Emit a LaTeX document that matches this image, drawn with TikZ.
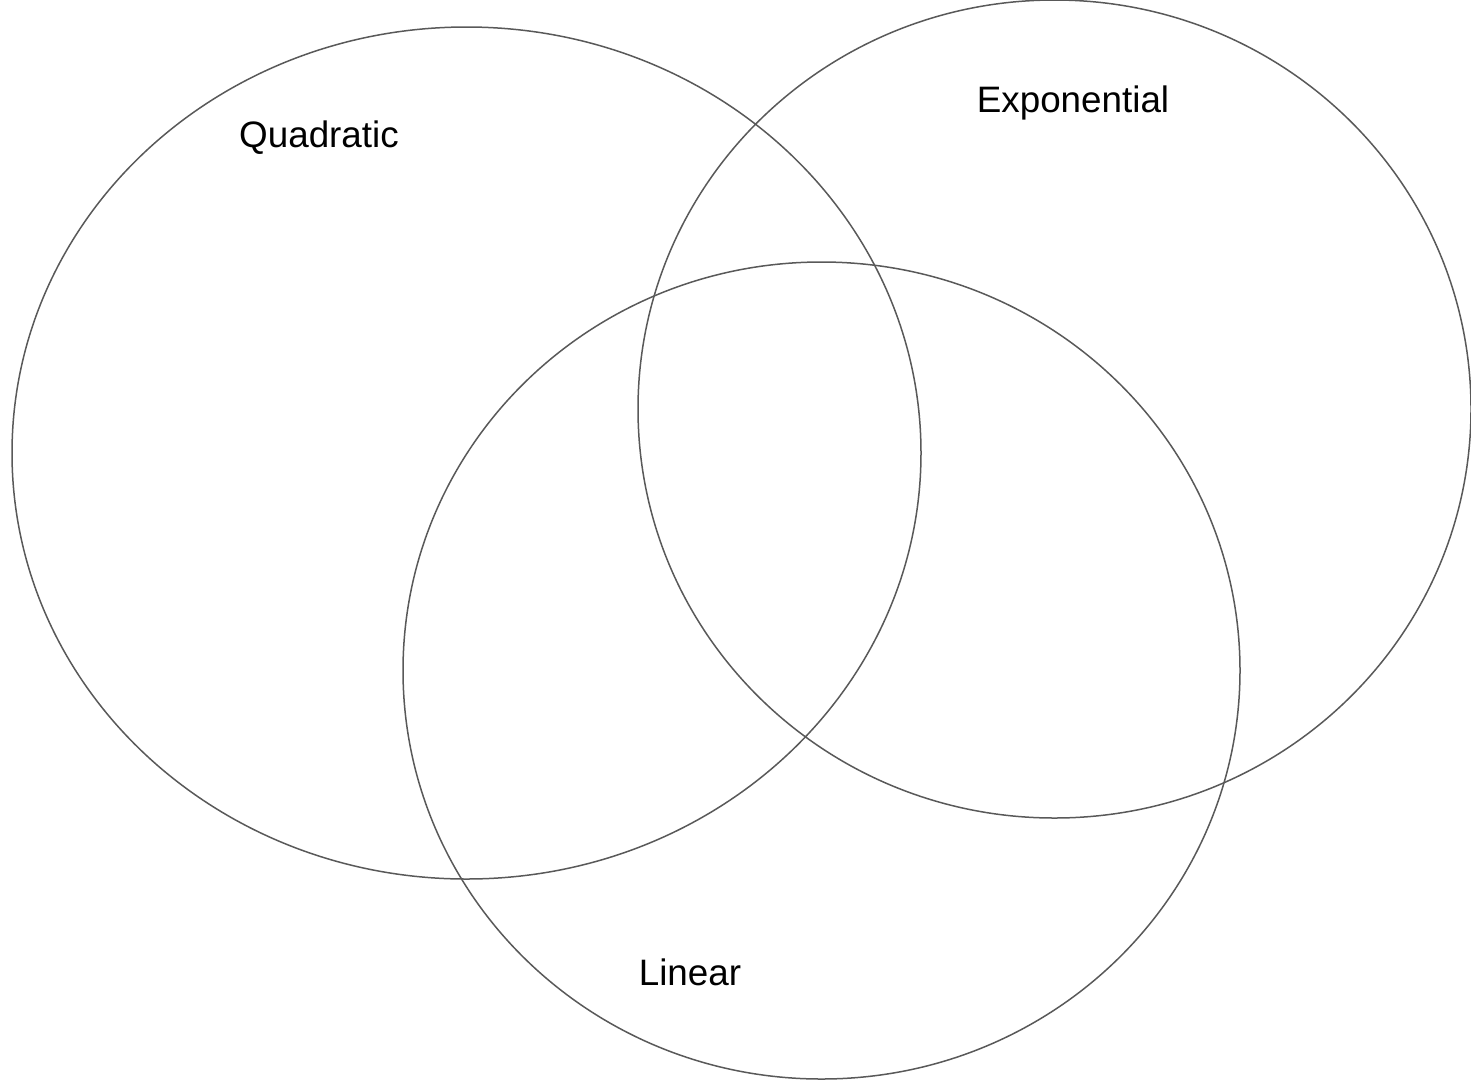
\documentclass[tikz,border=0pt]{standalone}
\usepackage{fontspec}
\setmainfont{Liberation Sans}
\usepackage{xcolor}
\usetikzlibrary{shapes.geometric,positioning}
\definecolor{ringgray}{HTML}{595959}

\begin{document}
\begin{tikzpicture}[x=1pt, y=-1pt]
  \tikzstyle{ring} = [ellipse, draw=ringgray, line width=1.5pt, inner sep=0pt]
  \tikzstyle{setlabel} = [anchor=base, inner sep=0pt, font=\fontsize{36.8}{44}\selectfont]

  \useasboundingbox (0,0) rectangle (1471,1080);

  \node [ring, minimum width=909pt, minimum height=852pt] (quad) at (466.5,453) {};
  \node [ring, minimum width=833pt, minimum height=818pt] (expo) at (1054.5,409) {};
  \node [ring, minimum width=837pt, minimum height=817pt] (lin) at (821.5,670.5) {};

  \node [setlabel] (quadlabel) at (319,147) {Quadratic};
  \node [setlabel] (expolabel) at (1073,112) {Exponential};
  \node [setlabel] (linlabel) at (690,985) {Linear};
\end{tikzpicture}
\end{document}
